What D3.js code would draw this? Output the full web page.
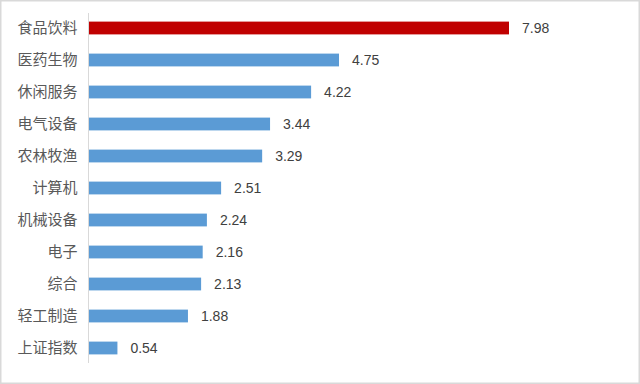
<!DOCTYPE html>
<html>
<head>
<meta charset="utf-8">
<script src="https://cdn.jsdelivr.net/npm/d3@7"></script>
<style>
  html, body { margin: 0; padding: 0; background: #fff; }
  svg { display: block; }
</style>
</head>
<body>
<div id="chart"></div>
<script>
var categories = ["食品饮料","医药生物","休闲服务","电气设备","农林牧渔","计算机","机械设备","电子","综合","轻工制造","上证指数"];
var values = [7.98, 4.75, 4.22, 3.44, 3.29, 2.51, 2.24, 2.16, 2.13, 1.88, 0.54];
var highlight = "食品饮料";

var width = 640, height = 384;
var color = { main: "#5b9bd5", hi: "#c00000" };

var svg = d3.select("#chart").append("svg")
    .attr("width", width)
    .attr("height", height);

// outer frame
svg.append("rect")
    .attr("x", 0.75).attr("y", 0.75)
    .attr("width", width - 1.5).attr("height", height - 1.5)
    .style("fill", "#fff")
    .style("stroke", "#d9d9d9")
    .style("stroke-width", 1.5);

var x = d3.scaleLinear().domain([0, 7.98]).range([89, 509]);
var y = d3.scaleBand().domain(categories).range([12, 364]).paddingInner(0.6).paddingOuter(0.3);

var g = svg.append("g");

g.selectAll("rect.bar")
    .data(categories)
    .enter().append("rect")
    .attr("class", "bar")
    .attr("x", x(0))
    .attr("y", function (d) { return y(d); })
    .attr("width", function (d, i) { return x(values[i]) - x(0); })
    .attr("height", y.bandwidth())
    .style("fill", function (d) { return d == highlight ? color.hi : color.main; });

// axis line
var yAxis = d3.axisLeft(y).tickSize(0).tickPadding(11);
var ag = svg.append("g")
    .attr("transform", "translate(" + 88.5 + ",0)")
    .call(yAxis);
ag.select(".domain").attr("d", "M0,13V363").style("stroke", "#d9d9d9").style("stroke-width", 1);
ag.selectAll("text")
    .style("font-family", "'Noto Sans CJK SC', sans-serif")
    .style("font-size", "15px")
    .style("fill", "#595959");

g.selectAll("text.val")
    .data(categories)
    .enter().append("text")
    .attr("class", "val")
    .attr("x", function (d, i) { return x(values[i]) + 13; })
    .attr("y", function (d) { return y(d) + y.bandwidth() / 2; })
    .attr("dy", "0.35em")
    .text(function (d, i) { return d3.format(".2f")(values[i]); })
    .style("font-family", "'Liberation Sans', Arial, sans-serif")
    .style("font-size", "14px")
    .style("fill", "#404040");
</script>
</body>
</html>
